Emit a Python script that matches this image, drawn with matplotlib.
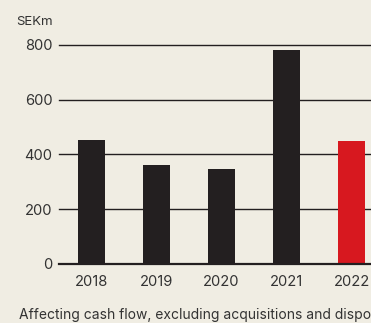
import matplotlib
matplotlib.use("Agg")
import matplotlib.pyplot as plt

years = ["2018", "2019", "2020", "2021", "2022"]
values = [452, 361, 346, 781, 449]
bar_colors = ["#231f20", "#231f20", "#231f20", "#231f20", "#d7181f"]
yticks = [0, 200, 400, 600, 800]

bg = "#f0ede3"
plt.rcParams["font.family"] = ["Inter", "DejaVu Sans"]

W, H = 371, 323
fig = plt.figure(figsize=(W / 100, H / 100), dpi=100, facecolor=bg)
left_px, right_px, bottom_px, top_px = 58.7, 371, 263.7, 45
ax = fig.add_axes([left_px / W, 1 - bottom_px / H,
                   (right_px - left_px) / W, (bottom_px - top_px) / H])
ax.set_facecolor(bg)

x = range(len(years))
ax.bar(x, values, width=0.415, color=bar_colors, zorder=3)

for t in yticks:
    ax.axhline(t, color="#231f20", lw=1.6 if t == 0 else 1.0, zorder=2 if t else 4,
               clip_on=False)

ax.set_xlim(-0.505, 4.3)
ax.set_ylim(0, 800)
ax.set_yticks(yticks)
ax.set_xticks(list(x))
ax.set_xticklabels(years)
ax.tick_params(axis="y", length=0, pad=4.6, labelsize=10.6, labelcolor="#333333")
ax.tick_params(axis="x", length=0, pad=8, labelsize=10.6, labelcolor="#333333")
for s in ax.spines.values():
    s.set_visible(False)

fig.text(16 / W, 1 - 21.7 / H, "SEKm", ha="left", va="center", fontsize=9.5,
         color="#333333")
fig.text(19 / W, 1 - 315 / H,
         "Affecting cash flow, excluding acquisitions and disposals",
         ha="left", va="center", fontsize=10, color="#333333")

fig.savefig("out.png", dpi=100, facecolor=bg)
